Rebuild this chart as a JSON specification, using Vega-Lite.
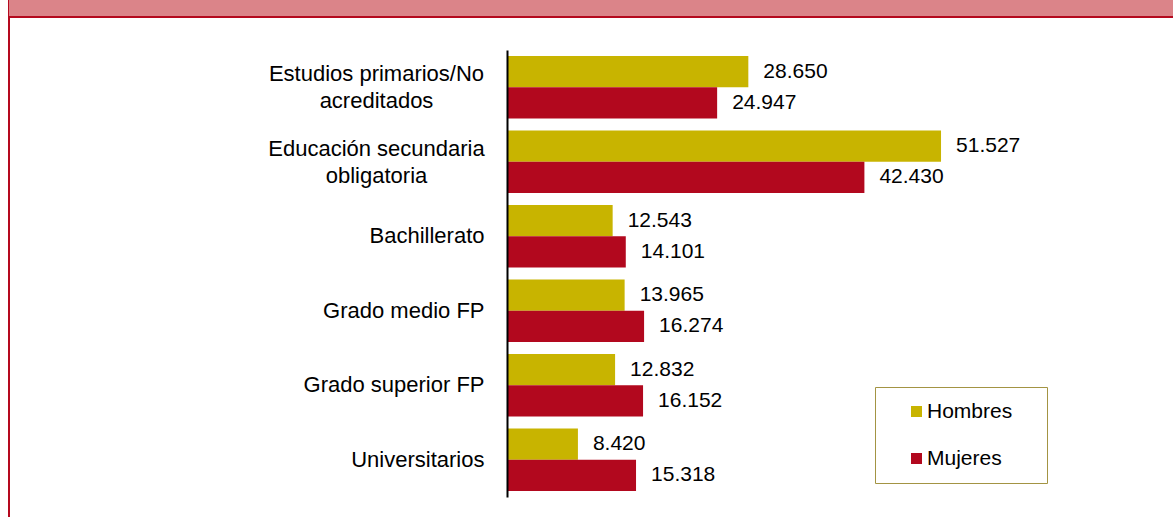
{
  "$schema": "https://vega.github.io/schema/vega-lite/v6.json",
  "padding": {"left": 8, "top": -3, "right": -4, "bottom": -4},
  "background": "white",
  "spacing": 0,
  "bounds": "flush",
  "config": {
    "view": {"stroke": "#B5091E", "strokeWidth": 2},
    "font": "Liberation Sans",
    "locale": {"number": {"decimal": ",", "thousands": ".", "grouping": [3], "currency": ["", " €"]}}
  },
  "vconcat": [
    {
      "width": 1167,
      "height": 19,
      "view": {"fill": "#DB8489", "stroke": "#B5091E", "strokeWidth": 2},
      "data": {"values": [{"banda": "cabecera"}]},
      "mark": {"type": "rect", "color": "#DB8489"},
      "encoding": {}
    },
    {
      "width": 1167,
      "height": 503,
      "view": {"fill": "white", "stroke": "#B5091E", "strokeWidth": 2},
      "data": {
        "values": [
          {"nivel": "Estudios primarios/No acreditados", "sexo": "Hombres", "valor": 28650},
          {"nivel": "Estudios primarios/No acreditados", "sexo": "Mujeres", "valor": 24947},
          {"nivel": "Educación secundaria obligatoria", "sexo": "Hombres", "valor": 51527},
          {"nivel": "Educación secundaria obligatoria", "sexo": "Mujeres", "valor": 42430},
          {"nivel": "Bachillerato", "sexo": "Hombres", "valor": 12543},
          {"nivel": "Bachillerato", "sexo": "Mujeres", "valor": 14101},
          {"nivel": "Grado medio FP", "sexo": "Hombres", "valor": 13965},
          {"nivel": "Grado medio FP", "sexo": "Mujeres", "valor": 16274},
          {"nivel": "Grado superior FP", "sexo": "Hombres", "valor": 12832},
          {"nivel": "Grado superior FP", "sexo": "Mujeres", "valor": 16152},
          {"nivel": "Universitarios", "sexo": "Hombres", "valor": 8420},
          {"nivel": "Universitarios", "sexo": "Mujeres", "valor": 15318}
        ]
      },
      "encoding": {
        "y": {
          "field": "nivel",
          "type": "nominal",
          "sort": ["Estudios primarios/No acreditados", "Educación secundaria obligatoria", "Bachillerato", "Grado medio FP", "Grado superior FP", "Universitarios"],
          "scale": {"range": [33, 480], "paddingInner": 0.16, "paddingOuter": 0.08},
          "axis": {
            "title": null,
            "offset": -498,
            "zindex": 1,
            "domainColor": "black",
            "domainWidth": 2,
            "ticks": false,
            "tickSize": 0,
            "grid": false,
            "labelFont": "Liberation Sans",
            "labelFontSize": 22,
            "labelColor": "black",
            "labelLineHeight": 27,
            "labelLimit": 400,
            "labelExpr": "datum.value == 'Estudios primarios/No acreditados' ? ['Estudios primarios/No', 'acreditados'] : datum.value == 'Educación secundaria obligatoria' ? ['Educación secundaria', 'obligatoria'] : datum.value",
            "labelAlign": {"condition": {"test": "datum.value == 'Estudios primarios/No acreditados' || datum.value == 'Educación secundaria obligatoria'", "value": "center"}, "value": "right"},
            "labelPadding": {"condition": {"test": "datum.value == 'Estudios primarios/No acreditados' || datum.value == 'Educación secundaria obligatoria'", "value": 131}, "value": 23},
            "labelOffset": {"condition": {"test": "datum.value == 'Estudios primarios/No acreditados' || datum.value == 'Educación secundaria obligatoria'", "value": -13}, "value": 0}
          }
        },
        "yOffset": {"field": "sexo", "type": "nominal", "sort": ["Hombres", "Mujeres"], "scale": {"paddingInner": 0, "paddingOuter": 0}},
        "x": {
          "field": "valor",
          "type": "quantitative",
          "scale": {"domain": [0, 60000], "range": [498, 1003.4], "nice": false, "zero": true},
          "axis": null
        }
      },
      "layer": [
        {
          "mark": {"type": "bar"},
          "encoding": {
            "color": {
              "field": "sexo",
              "type": "nominal",
              "sort": ["Hombres", "Mujeres"],
              "scale": {"domain": ["Hombres", "Mujeres"], "range": ["#C8B400", "#B2081E"]},
              "legend": {
                "orient": "none",
                "legendX": 866,
                "legendY": 389,
                "title": " ",
                "titleOrient": "right",
                "titlePadding": 21,
                "titleFontSize": 20,
                "padding": 14,
                "rowPadding": 25,
                "symbolType": "square",
                "symbolSize": 121,
                "symbolOffset": 17,
                "symbolStrokeWidth": 0,
                "labelOffset": 0,
                "labelFont": "Liberation Sans",
                "labelFontSize": 21,
                "labelColor": "black",
                "strokeColor": "#A39443",
                "fillColor": "white"
              }
            }
          }
        },
        {
          "mark": {"type": "text", "align": "left", "baseline": "middle", "dx": 15, "fontSize": 21, "font": "Liberation Sans", "color": "black"},
          "encoding": {
            "text": {"field": "valor", "type": "quantitative", "format": ",d"}
          }
        }
      ]
    }
  ]
}
